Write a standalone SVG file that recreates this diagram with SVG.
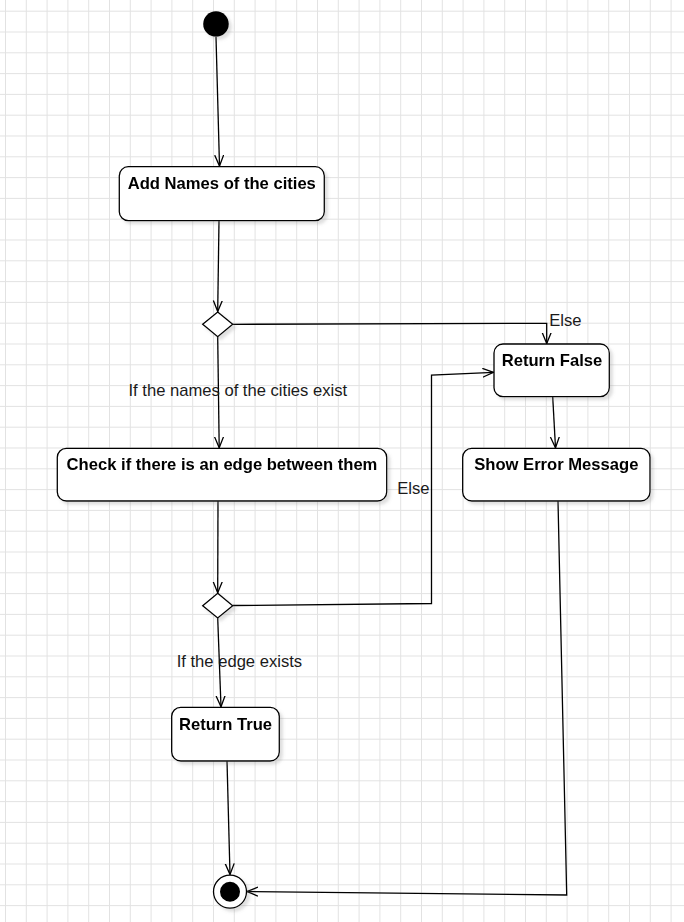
<svg xmlns="http://www.w3.org/2000/svg" width="684" height="922" viewBox="0 0 684 922">
  <style>
    .box { fill: #ffffff; stroke: #000000; stroke-width: 1.3; }
    .title { font-family: "Liberation Sans", Arial, sans-serif; font-size: 16.6px; font-weight: bold; fill: #000000; text-anchor: middle; }
    .label { font-family: "Liberation Sans", Arial, sans-serif; font-size: 16.6px; fill: #1a1a1a; }
    .edge { fill: none; stroke: #000000; stroke-width: 1.3; }
  </style>
  <defs>
    <pattern id="grid" patternUnits="userSpaceOnUse" x="5" y="10.7" width="20.8" height="20.8">
      <path d="M0 0.5 H20.8 M0.5 0 V20.8" fill="none" stroke="#e2e2e2" stroke-width="1"/>
    </pattern>
    <filter id="shadow" x="-20%" y="-20%" width="150%" height="160%">
      <feDropShadow dx="3" dy="3" stdDeviation="1.5" flood-color="#808080" flood-opacity="0.25"/>
    </filter>
    <marker id="open" markerUnits="userSpaceOnUse" markerWidth="14" markerHeight="12" refX="11" refY="5" orient="auto">
      <path d="M0,0.5 L11,5 L0,9.5" fill="none" stroke="#000000" stroke-width="1.3"/>
    </marker>
  </defs>

  <!-- background grid -->
  <rect width="684" height="922" fill="#ffffff"/>
  <rect width="684" height="922" fill="url(#grid)"/>

  <!-- connectors -->
  <g id="connectors">
    <path class="edge" d="M216,37 L219.5,166" marker-end="url(#open)"/>
    <path class="edge" d="M219,220.7 L217.7,311.5" marker-end="url(#open)"/>
    <path class="edge" d="M232.7,324.3 L546.7,323.3 L546.7,343.5" marker-end="url(#open)"/>
    <path class="edge" d="M217.7,336.7 L219.2,447.8" marker-end="url(#open)"/>
    <path class="edge" d="M552.7,396.7 L555.5,447.8" marker-end="url(#open)"/>
    <path class="edge" d="M218,501 L217.7,592.8" marker-end="url(#open)"/>
    <path class="edge" d="M232.7,605.5 L431.5,603.5 L431.5,375 L493.5,372.3" marker-end="url(#open)"/>
    <path class="edge" d="M217.7,618 L221,706.8" marker-end="url(#open)"/>
    <path class="edge" d="M227,761 L230,874.5" marker-end="url(#open)"/>
    <path class="edge" d="M558,501 L566.7,895 L247,891.5" marker-end="url(#open)"/>
    <text class="label" x="549.3" y="326">Else</text>
    <text class="label" x="397.3" y="493.5">Else</text>
    <text class="label" x="237.8" y="396" text-anchor="middle">If the names of the cities exist</text>
    <text class="label" x="239.4" y="666.7" text-anchor="middle">If the edge exists</text>
  </g>

  <g id="start" filter="url(#shadow)">
    <circle cx="216" cy="24" r="12.8" fill="#000000"/>
  </g>

  <g id="add-names" filter="url(#shadow)">
    <rect class="box" x="119.3" y="166.7" width="205" height="54" rx="9"/>
    <text class="title" x="221.8" y="189">Add Names of the cities</text>
  </g>

  <g id="decision-names" filter="url(#shadow)">
    <polygon class="box" points="217.7,312 232.7,324.3 217.7,336.7 202.7,324.3"/>
  </g>

  <g id="return-false" filter="url(#shadow)">
    <rect class="box" x="494" y="344" width="115.3" height="52.7" rx="9"/>
    <text class="title" x="552" y="365.5">Return False</text>
  </g>

  <g id="check-edge" filter="url(#shadow)">
    <rect class="box" x="57.3" y="448.3" width="329.4" height="52.7" rx="9"/>
    <text class="title" x="222" y="469.5">Check if there is an edge between them</text>
  </g>

  <g id="show-error" filter="url(#shadow)">
    <rect class="box" x="462.7" y="448.3" width="187.3" height="52.7" rx="9"/>
    <text class="title" x="556.3" y="469.5">Show Error Message</text>
  </g>

  <g id="decision-edge" filter="url(#shadow)">
    <polygon class="box" points="217.7,593.3 232.7,605.7 217.7,618 202.7,605.7"/>
  </g>

  <g id="return-true" filter="url(#shadow)">
    <rect class="box" x="171.7" y="707.3" width="107.6" height="53.7" rx="9"/>
    <text class="title" x="225.5" y="729.5">Return True</text>
  </g>

  <g id="end" filter="url(#shadow)">
    <circle cx="230" cy="891.7" r="16.5" fill="#ffffff" stroke="#000000" stroke-width="1.3"/>
    <circle cx="230" cy="891.7" r="10" fill="#000000"/>
  </g>
</svg>
